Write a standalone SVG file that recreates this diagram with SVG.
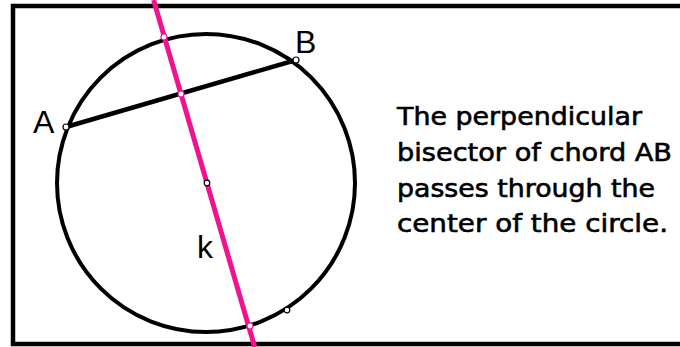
<svg xmlns="http://www.w3.org/2000/svg" width="680" height="347" viewBox="0 0 680 347">
<style>
.frame{fill:none;stroke:#000;stroke-width:4.5}
.circ{fill:none;stroke:#000;stroke-width:4}
.chord{stroke:#000;stroke-width:4.5;stroke-linecap:butt}
.bis{stroke:#f0138f;stroke-width:5}
.pt{fill:#fff;stroke:#000;stroke-width:1.2}
.ppt{fill:#fff;stroke:#f0138f;stroke-width:1.2}
.lbl{font-family:"Liberation Sans",Arial,sans-serif;font-size:32px;fill:#000}
.txt{font-family:"DejaVu Sans","Liberation Sans",sans-serif;font-size:25px;fill:#000;stroke:#000;stroke-width:0.6}
</style>
<rect class="frame" x="13" y="6" width="680" height="338"/>
<g id="circle"><circle class="circ" cx="206" cy="183" r="149"/></g>
<g id="connectors">
<line class="chord" x1="66" y1="127" x2="296" y2="60"/>
<line class="bis" x1="153.6" y1="0" x2="254.7" y2="347"/>
</g>
<g id="pointA"><circle class="pt" cx="66" cy="127" r="3"/><text class="lbl" x="33" y="133">A</text></g>
<g id="pointB"><circle class="pt" cx="296" cy="60" r="3"/><text class="lbl" x="295" y="53">B</text></g>
<g id="midpoint"><circle class="ppt" cx="181" cy="94" r="3"/></g>
<g id="topIntersection"><circle class="ppt" cx="164" cy="37" r="3"/></g>
<g id="bottomIntersection"><circle class="ppt" cx="250" cy="326" r="3"/></g>
<g id="center"><circle class="pt" cx="207" cy="183" r="2.8"/></g>
<g id="circlePoint"><circle class="pt" cx="287" cy="310" r="2.8"/></g>
<g id="labelK"><text class="lbl" x="197" y="258">k</text></g>
<g id="caption">
<text class="txt" x="397" y="125" textLength="245" lengthAdjust="spacingAndGlyphs">The perpendicular</text>
<text class="txt" x="397" y="161" textLength="275" lengthAdjust="spacingAndGlyphs">bisector of chord AB</text>
<text class="txt" x="397" y="197" textLength="258" lengthAdjust="spacingAndGlyphs">passes through the</text>
<text class="txt" x="397" y="232" textLength="271" lengthAdjust="spacingAndGlyphs">center of the circle.</text>
</g>
</svg>
